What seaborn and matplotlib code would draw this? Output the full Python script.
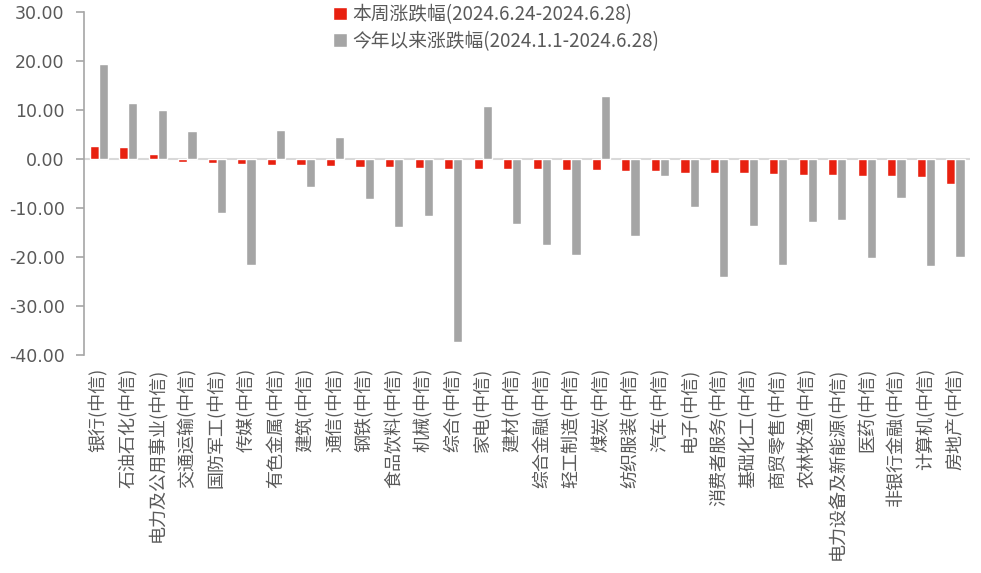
import matplotlib
matplotlib.use("Agg")
import matplotlib.pyplot as plt
import seaborn as sns
import pandas as pd
import numpy as np

categories = ["银行(中信)", "石油石化(中信)", "电力及公用事业(中信)", "交通运输(中信)", "国防军工(中信)",
              "传媒(中信)", "有色金属(中信)", "建筑(中信)", "通信(中信)", "钢铁(中信)",
              "食品饮料(中信)", "机械(中信)", "综合(中信)", "家电(中信)", "建材(中信)",
              "综合金融(中信)", "轻工制造(中信)", "煤炭(中信)", "纺织服装(中信)", "汽车(中信)",
              "电子(中信)", "消费者服务(中信)", "基础化工(中信)", "商贸零售(中信)", "农林牧渔(中信)",
              "电力设备及新能源(中信)", "医药(中信)", "非银行金融(中信)", "计算机(中信)", "房地产(中信)"]
week_change = [2.6, 2.4, 1.0, -0.6, -0.8, -1.0, -1.2, -1.2, -1.4, -1.6,
               -1.6, -1.8, -2.0, -2.0, -2.0, -2.0, -2.2, -2.2, -2.4, -2.4,
               -2.8, -2.8, -2.8, -3.0, -3.2, -3.2, -3.4, -3.4, -3.6, -5.0]
ytd_change = [19.3, 11.5, 10.1, 5.8, -10.9, -21.6, 6.0, -5.7, 4.6, -8.2,
              -13.9, -11.6, -37.3, 10.9, -13.3, -17.6, -19.6, 12.9, -15.7, -3.5,
              -9.8, -24.1, -13.7, -21.6, -12.9, -12.4, -20.2, -8.0, -21.8, -20.0]
series_names = ["本周涨跌幅(2024.6.24-2024.6.28)", "今年以来涨跌幅(2024.1.1-2024.6.28)"]
y_ticks = [30, 20, 10, 0, -10, -20, -30, -40]

sns.set_theme(style="white")
plt.rcParams['font.family'] = ['Noto Sans CJK SC', 'DejaVu Sans']
plt.rcParams['axes.unicode_minus'] = False

df = pd.DataFrame({
    "行业": categories * 2,
    "涨跌幅": week_change + ytd_change,
    "系列": [series_names[0]] * len(categories) + [series_names[1]] * len(categories),
})

fig = plt.figure(figsize=(9.81, 5.73), dpi=100)
ax = fig.add_axes([0.0856, 0.380, 0.9034, 0.599])

palette = {series_names[0]: "#E8200F", series_names[1]: "#A5A5A5"}
sns.barplot(data=df, x="行业", y="涨跌幅", hue="系列", order=categories,
            hue_order=series_names, palette=palette, width=0.62, ax=ax,
            saturation=1, errorbar=None, dodge=True, zorder=2)

ax.axhline(0, color="#D9D9D9", linewidth=1.5, zorder=1)
ax.set_ylim(-40, 30)
ax.set_xlim(-0.5, len(categories) - 0.5)
ax.set_yticks(y_ticks)
ax.set_yticklabels([f"{v:.2f}" for v in y_ticks], color="#595959", fontsize=12.5,
                   family=['DejaVu Sans'])
ax.set_xticks(range(len(categories)))
ax.set_xticklabels(categories, rotation=90, color="#595959", fontsize=13,
                   va="top", ha="center")
ax.set_xlabel("")
ax.set_ylabel("")
for s in ["top", "right", "bottom"]:
    ax.spines[s].set_visible(False)
ax.spines["left"].set_color("#A6A6A6")
ax.spines["left"].set_linewidth(1.2)
ax.tick_params(axis="y", which="both", left=True, direction="out", length=6,
               width=1.2, color="#A6A6A6", pad=8)
ax.tick_params(axis="x", bottom=False, pad=3)

leg = ax.legend(loc="upper center", bbox_to_anchor=(0.465, 1.045), frameon=False,
                fontsize=13.5, handlelength=0.75, handleheight=0.75, handletextpad=0.3,
                labelspacing=0.3, borderaxespad=0)
for t in leg.get_texts():
    t.set_color("#595959")

fig.savefig("out.png", dpi=100)
